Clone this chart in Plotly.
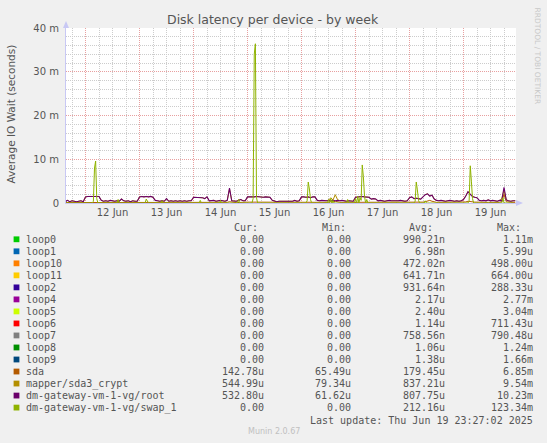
import pandas as pd
import plotly.graph_objects as go

# ---------------- data (values in milliseconds) ----------------
# hourly samples, starting 2025-06-11 15:00
hourly_start = "2025-06-11 15:00"
root_ms = [
    0.3, 0.6, 0.3, 0.5, 0.4, 0.3, 0.4, 0.5, 0.3,                                   # 11 Jun
    1.4, 1.5, 1.5, 1.4, 1.5, 1.4, 1.5, 0.6, 0.4, 0.5, 0.4, 0.6, 0.5, 0.4, 0.5, 0.4,
    0.9, 0.5, 0.4, 0.5, 0.3, 0.5, 0.4, 0.4,                                          # 12 Jun
    1.4, 1.5, 1.4, 1.5, 1.4, 1.5, 1.3, 0.6, 0.5, 0.4, 0.5, 0.4, 1.0, 0.4, 0.5, 0.4,
    0.5, 0.4, 0.5, 0.4, 0.5, 0.4, 0.5, 0.5,                                          # 13 Jun
    1.3, 1.3, 1.2, 1.3, 1.2, 1.0, 1.4, 0.5, 0.5, 0.6, 0.4, 0.5, 0.6, 0.5, 0.4, 0.6,
    3.4, 0.5, 0.5, 0.4, 0.6, 0.8, 0.5, 0.5,                                          # 14 Jun
    1.4, 1.4, 1.3, 1.4, 1.5, 1.4, 1.4, 1.3, 1.4, 1.4, 1.3, 0.6, 0.4, 0.3, 0.4, 0.4,
    0.5, 0.4, 0.5, 0.4, 0.4, 0.6, 0.4, 0.5,                                          # 15 Jun
    1.4, 1.4, 1.3, 1.4, 1.2, 1.4, 1.4, 0.6, 0.5, 0.6, 0.5, 0.5, 0.6, 0.5, 0.6, 0.5,
    0.6, 0.5, 0.6, 0.5, 0.4, 0.5, 0.5, 0.4,                                          # 16 Jun
    1.3, 1.4, 1.4, 1.5, 1.4, 1.4, 1.3, 0.9, 1.0, 0.9, 0.5, 0.6, 0.5, 0.4, 0.5, 0.6,
    0.5, 0.5, 0.4, 0.5, 0.6, 0.5, 0.4, 0.5,                                          # 17 Jun
    1.2, 1.4, 1.0, 1.1, 1.0, 0.9, 1.4, 1.9, 2.1, 1.6, 1.8, 0.9, 0.6, 0.5, 0.6, 0.5,
    0.4, 0.5, 0.6, 0.5, 0.4, 0.5, 0.4, 0.5,                                          # 18 Jun
    0.8, 1.6, 2.6, 2.0, 1.5, 1.3, 1.2, 0.6, 0.5, 0.6, 0.5, 0.7, 0.5, 0.6, 0.5, 0.4,
    0.6, 0.5, 3.6, 0.7, 0.5, 0.4, 0.5, 0.5,                                          # 19 Jun
]
mapper_ms = [
    0.3, 0.6, 0.3, 0.5, 0.4, 0.3, 0.4, 0.5, 0.3,
    1.4, 1.5, 1.5, 1.4, 1.5, 1.4, 1.5, 0.6, 0.4, 0.5, 0.4, 0.6, 0.5, 0.4, 0.5, 0.4,
    0.9, 0.5, 0.4, 0.5, 0.3, 0.5, 0.4, 0.4,
    1.4, 1.5, 1.4, 1.5, 1.4, 1.5, 1.3, 0.6, 0.5, 0.4, 0.5, 0.4, 1.0, 0.4, 0.5, 0.4,
    0.5, 0.4, 0.5, 0.4, 0.5, 0.4, 0.5, 0.5,
    1.3, 1.3, 1.2, 1.3, 1.2, 1.0, 1.4, 0.5, 0.5, 0.6, 0.4, 0.5, 0.6, 0.5, 0.4, 0.6,
    3.2, 0.5, 0.5, 0.4, 0.6, 0.8, 0.5, 0.5,
    1.4, 1.4, 1.3, 1.4, 1.5, 1.4, 1.4, 1.3, 1.4, 1.4, 1.3, 0.6, 0.4, 0.3, 0.4, 0.4,
    0.5, 0.4, 0.5, 0.4, 0.4, 0.6, 0.4, 0.5,
    1.4, 1.4, 1.3, 1.4, 1.2, 1.4, 1.4, 0.6, 0.5, 0.6, 0.5, 0.5, 0.6, 1.2, 0.7, 1.9,
    0.8, 0.5, 0.6, 0.5, 0.4, 0.5, 0.5, 0.4,
    1.3, 1.4, 1.4, 1.5, 1.4, 1.4, 1.3, 0.9, 1.0, 0.9, 0.5, 0.6, 0.5, 0.4, 0.5, 0.6,
    0.5, 0.5, 0.4, 0.5, 0.6, 0.5, 0.4, 0.5,
    1.2, 1.4, 1.0, 1.1, 1.0, 0.9, 1.4, 1.9, 2.1, 1.6, 1.8, 0.9, 0.6, 0.5, 0.6, 0.5,
    0.4, 0.5, 0.6, 0.5, 0.4, 0.5, 0.4, 0.5,
    0.8, 1.6, 2.6, 2.0, 1.5, 1.3, 1.2, 0.6, 0.5, 0.6, 0.5, 0.7, 0.5, 0.6, 0.5, 0.4,
    0.6, 1.0, 3.0, 0.7, 0.5, 0.4, 0.5, 0.5,
]
sda_ms = [
    0.10, 0.10, 0.15, 0.15, 0.10, 0.15, 0.15, 0.10, 0.15,
    0.20, 0.20, 0.20, 0.15, 0.20, 0.20, 0.15, 0.15, 0.15, 0.10, 0.15, 0.15, 0.15, 0.15, 0.10, 0.15,
    0.15, 0.15, 0.15, 0.10, 0.15, 0.15, 0.15, 0.15,
    0.20, 0.20, 0.15, 0.20, 0.20, 0.20, 0.15, 0.15, 0.10, 0.15, 0.15, 0.15, 0.15, 0.15, 0.10, 0.15,
    0.15, 0.15, 0.10, 0.15, 0.15, 0.15, 0.15, 0.15,
    0.20, 0.15, 0.20, 0.20, 0.15, 0.20, 0.15, 0.15, 0.15, 0.10, 0.15, 0.15, 0.15, 0.15, 0.15, 0.15,
    0.30, 0.15, 0.15, 0.10, 0.15, 0.20, 0.15, 0.15,
    0.20, 0.20, 0.20, 0.15, 0.25, 0.20, 0.20, 0.20, 0.20, 0.20, 0.15, 0.15, 0.10, 0.10, 0.15, 0.10,
    0.15, 0.15, 0.10, 0.15, 0.10, 0.15, 0.15, 0.15,
    0.20, 0.20, 0.15, 0.20, 0.20, 0.20, 0.15, 0.15, 0.15, 0.15, 0.15, 0.15, 0.15, 0.30, 0.20, 0.40,
    0.20, 0.15, 0.15, 0.15, 0.10, 0.15, 0.15, 0.10,
    0.20, 0.20, 0.20, 0.20, 0.25, 0.20, 0.20, 0.15, 0.20, 0.15, 0.15, 0.15, 0.15, 0.10, 0.15, 0.15,
    0.15, 0.15, 0.10, 0.15, 0.15, 0.15, 0.10, 0.15,
    0.20, 0.20, 0.15, 0.20, 0.20, 0.15, 0.20, 0.30, 0.40, 0.60, 0.40, 0.20, 0.15, 0.15, 0.15, 0.15,
    0.10, 0.15, 0.15, 0.15, 0.10, 0.15, 0.15, 0.15,
    0.15, 0.25, 0.40, 0.30, 0.20, 0.20, 0.20, 0.15, 0.15, 0.15, 0.15, 0.15, 0.15, 0.15, 0.10, 0.15,
    0.15, 0.30, 2.00, 0.30, 0.15, 0.15, 0.15, 0.15,
]
# half-hourly samples, starting 2025-06-11 15:00
halfhour_start = "2025-06-11 15:00"
swap_ms = [
    0, 0, 0, 0, 0, 0, 0, 0, 0, 0, 0, 0, 0, 0, 0, 0, 0, 0,                                    # 11 Jun
    0, 0, 0, 0, 0, 0, 0, 0.4, 8.0, 9.6, 1.0, 0, 0, 0, 0, 0, 0, 0, 0, 0, 0, 0, 0, 0,
    0, 0, 0, 0, 0, 0.8, 0, 0, 0, 0, 0, 0, 0, 0, 0, 0, 0, 0, 0, 0, 0, 0,                      # 12 Jun
    0, 0, 0, 0, 0, 0, 0, 0, 0.9, 0.4, 0, 0, 0, 0, 0, 0, 0, 0, 0, 0, 0, 0, 0.5, 0,
    0, 0, 0, 0, 0, 0, 0, 0, 0, 0, 0, 0, 0, 0, 0, 0, 0, 0, 0, 0, 0, 0, 0, 0,                  # 13 Jun
    0, 0, 0, 0, 0, 0, 0, 0, 0.6, 0, 0, 0, 0, 0, 0, 0, 0, 0, 0, 0, 0, 0, 0, 0,
    0, 0, 0.6, 0, 0, 0, 0, 0, 0, 0, 0, 0, 0, 0, 0, 0, 0, 0, 0.8, 0, 0, 0, 0, 0,              # 14 Jun
    0, 0, 0, 0, 0, 0, 0, 1.0, 34.0, 36.4, 1.2, 0, 0, 0, 0, 0, 0, 0, 0, 0, 0, 0, 0, 0,
    0, 0, 0, 0, 0, 0, 0, 0, 0, 0, 0, 0, 0, 0, 0, 0, 0, 0, 0, 0, 0, 0, 0, 0,                  # 15 Jun
    0, 0, 0, 0, 0, 0, 0, 0.5, 4.8, 3.2, 0.8, 0, 0, 0, 0, 0, 0, 0, 0, 0, 0, 0, 0, 0,
    0, 0, 0.8, 0, 1.0, 0, 0.6, 0, 0, 0, 0, 0, 0, 0, 0, 0, 0, 0, 0, 0.8, 0, 0, 0, 0,          # 16 Jun
    0, 0, 1.0, 0, 1.5, 0, 1.2, 0.6, 8.7, 6.0, 1.5, 0, 0.8, 0, 0, 0, 0, 0, 0, 0, 0, 0, 0, 0,
    0, 0, 0, 0, 0, 0, 0, 0, 0, 0, 0, 0, 0, 0, 0, 0, 0, 0, 0, 0, 0, 0, 0, 0,                  # 17 Jun
    0, 0, 0, 0, 0, 0, 0, 0.4, 4.8, 3.0, 0.6, 0, 0, 0, 0, 0, 0.5, 0, 0, 0, 0, 0, 0, 0,
    0, 0, 0, 0, 0, 0, 0, 0, 0, 0, 0, 0, 0, 0, 0, 0, 0, 0, 0, 0, 0, 0, 0, 0,                  # 18 Jun
    0, 0, 0, 0, 0, 0, 0, 0.5, 8.5, 5.0, 1.0, 0, 0, 0, 0, 0, 0, 0, 0, 0, 0, 0, 0, 0,
    0, 0, 0, 0, 0, 0, 0, 0, 0, 0, 0, 0, 0, 1.2, 0, 0, 0, 0, 0, 0, 0, 0, 0,                   # 19 Jun
]

x_range = ["2025-06-11 15:20", "2025-06-19 23:20"]
y_tickvals = [0, 10, 20, 30, 40]
y_ticktext = ["0", "10 m", "20 m", "30 m", "40 m"]

# legend table
names = ["loop0", "loop1", "loop10", "loop11", "loop2", "loop4", "loop5", "loop6",
         "loop7", "loop8", "loop9", "sda", "mapper/sda3_crypt",
         "dm-gateway-vm-1-vg/root", "dm-gateway-vm-1-vg/swap_1"]
colors = ["#00CC00", "#0066B3", "#FF8000", "#FFCC00", "#330099", "#990099", "#CCFF00",
          "#FF0000", "#808080", "#008F00", "#00487D", "#B35A00", "#B38F00",
          "#6B006B", "#8FB300"]
cur_txt = ["0.00", "0.00", "0.00", "0.00", "0.00", "0.00", "0.00", "0.00", "0.00",
           "0.00", "0.00", "142.78u", "544.99u", "532.80u", "0.00"]
min_txt = ["0.00", "0.00", "0.00", "0.00", "0.00", "0.00", "0.00", "0.00", "0.00",
           "0.00", "0.00", "65.49u", "79.34u", "61.62u", "0.00"]
avg_txt = ["990.21n", "6.98n", "472.02n", "641.71n", "931.64n", "2.17u", "2.40u",
           "1.14u", "758.56n", "1.06u", "1.38u", "179.45u", "837.21u", "807.75u",
           "212.16u"]
max_txt = ["1.11m", "5.99u", "498.00u", "664.00u", "288.33u", "2.77m", "3.04m",
           "711.43u", "790.48u", "1.24m", "1.66m", "6.85m", "9.54m", "10.23m",
           "123.34m"]

# ---------------- figure ----------------
W, H = 547, 443
L, R, T, B = 66, 31, 28, 240
PW, PH = W - L - R, H - T - B


def px(x):
    return (x - L) / PW


def py(y):
    return (H - B - y) / PH


t_hour = pd.date_range(hourly_start, periods=len(root_ms), freq="h")
t_half = pd.date_range(halfhour_start, periods=len(swap_ms), freq="30min")

fig = go.Figure()
fig.add_trace(go.Scatter(x=t_hour, y=sda_ms, mode="lines",
                         line=dict(color=colors[11], width=1)))
fig.add_trace(go.Scatter(x=t_hour, y=mapper_ms, mode="lines",
                         line=dict(color=colors[12], width=1)))
fig.add_trace(go.Scatter(x=t_hour, y=root_ms, mode="lines",
                         line=dict(color=colors[13], width=1.1)))
fig.add_trace(go.Scatter(x=t_half, y=swap_ms, mode="lines",
                         line=dict(color=colors[14], width=1)))

TXT = "#555555"
MONO = "DejaVu Sans Mono"
SANS = "DejaVu Sans"
major = "#e8a0a0"
minor = "#cccccc"

fig.update_layout(
    width=W, height=H,
    margin=dict(l=L, r=R, t=T, b=B, pad=0),
    paper_bgcolor="#F0F0F0", plot_bgcolor="#FFFFFF",
    showlegend=False,
    xaxis=dict(
        type="date", range=x_range,
        tick0="2025-06-12", dtick=86400000, ticklabelmode="period",
        tickformat="%d %b", ticks="",
        showgrid=True, gridcolor=major, griddash="1px,1px", gridwidth=1,
        minor=dict(dtick=6 * 3600000, tick0="2025-06-12", showgrid=True,
                   gridcolor=minor, griddash="1px,1px", gridwidth=1),
        showline=True, linecolor="#c8c8f4", linewidth=1, zeroline=False,
        tickfont=dict(family=SANS, size=10, color=TXT),
        fixedrange=True,
    ),
    yaxis=dict(
        range=[0, 40], tickvals=y_tickvals, ticktext=y_ticktext, ticks="",
        showgrid=True, gridcolor=major, griddash="1px,1px", gridwidth=1,
        minor=dict(dtick=2, tick0=0, showgrid=True, gridcolor=minor,
                   griddash="1px,1px", gridwidth=1),
        showline=True, linecolor="#c8c8f4", linewidth=1, zeroline=False,
        tickfont=dict(family=SANS, size=10, color=TXT),
        ticklabelstandoff=4,
        fixedrange=True,
    ),
)

ann = []
ann.append(dict(x=px(273), y=py(19.5), xref="paper", yref="paper",
                text="Disk latency per device - by week", showarrow=False,
                xanchor="center", yanchor="middle",
                font=dict(family=SANS, size=12.5, color=TXT)))
ann.append(dict(x=px(10.5), y=py(114), xref="paper", yref="paper",
                text="Average IO Wait (seconds)", showarrow=False, textangle=-90,
                xanchor="center", yanchor="middle",
                font=dict(family=SANS, size=10.5, color=TXT)))
ann.append(dict(x=px(537.5), y=py(56), xref="paper", yref="paper",
                text="RRDTOOL / TOBI OETIKER", showarrow=False, textangle=90,
                xanchor="center", yanchor="middle",
                font=dict(family=SANS, size=7.5, color="#c8c8c8")))

hdr_y = 227.3
for label, xr in [("Cur:", 257.5), ("Min:", 345.5), ("Avg:", 432.8), ("Max:", 520.5)]:
    ann.append(dict(x=px(xr), y=py(hdr_y), xref="paper", yref="paper", text=label,
                    showarrow=False, xanchor="right", yanchor="middle",
                    borderpad=0, borderwidth=0,
                    font=dict(family=MONO, size=10, color=TXT)))

shapes = []
row0, step = 239.3, 12.02
for i, name in enumerate(names):
    yy = row0 + step * i
    shapes.append(dict(type="rect", xref="paper", yref="paper",
                       x0=px(13.6), x1=px(19.4), y0=py(yy - 2.9), y1=py(yy + 2.9),
                       fillcolor=colors[i], line=dict(width=0)))
    ann.append(dict(x=px(26.2), y=py(yy), xref="paper", yref="paper", text=name,
                    showarrow=False, xanchor="left", yanchor="middle",
                    borderpad=0, borderwidth=0,
                    font=dict(family=MONO, size=10, color=TXT)))
    for txt, xr in [(cur_txt[i], 263.6), (min_txt[i], 351.4),
                    (avg_txt[i], 444.9), (max_txt[i], 533.2)]:
        ann.append(dict(x=px(xr), y=py(yy), xref="paper", yref="paper", text=txt,
                        showarrow=False, xanchor="right", yanchor="middle",
                        borderpad=0, borderwidth=0,
                        font=dict(family=MONO, size=10, color=TXT)))

ann.append(dict(x=px(533.2), y=py(420), xref="paper", yref="paper",
                text="Last update: Thu Jun 19 23:27:02 2025", showarrow=False,
                xanchor="right", yanchor="middle", borderpad=0, borderwidth=0,
                font=dict(family=MONO, size=10, color=TXT)))
ann.append(dict(x=px(273.5), y=py(431.8), xref="paper", yref="paper",
                text="Munin 2.0.67", showarrow=False,
                xanchor="center", yanchor="middle",
                font=dict(family=SANS, size=8, color="#c0c0c0")))

# axis arrows
arrow_col = "#c8c8f4"
shapes.append(dict(type="path", xref="paper", yref="paper",
                   path=f"M {px(63)} {py(28)} L {px(69)} {py(28)} L {px(66)} {py(21)} Z",
                   fillcolor=arrow_col, line=dict(width=0)))
shapes.append(dict(type="path", xref="paper", yref="paper",
                   path=f"M {px(516)} {py(200)} L {px(516)} {py(206)} L {px(523)} {py(203)} Z",
                   fillcolor=arrow_col, line=dict(width=0)))

fig.update_layout(annotations=ann, shapes=shapes)
fig.write_html("out.html",
               config={"displayModeBar": False, "staticPlot": True},
               post_script="document.body.style.margin='0';"
                           "document.body.style.overflow='hidden';")
